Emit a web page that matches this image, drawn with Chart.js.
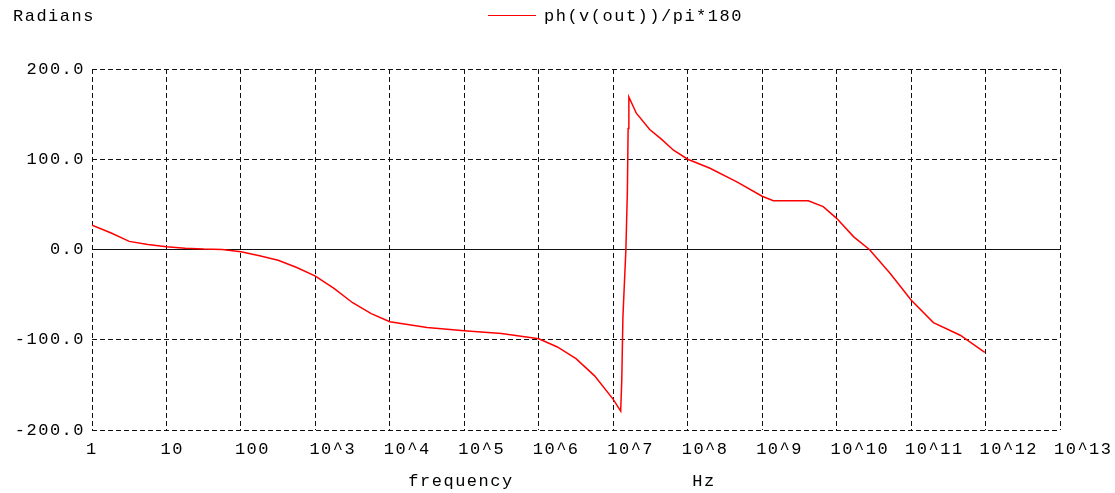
<!DOCTYPE html>
<html>
<head>
<meta charset="utf-8">
<script src="https://cdn.jsdelivr.net/npm/chart.js@4"></script>
<style>
  html, body { margin: 0; padding: 0; background: #fff; }
  #wrap { width: 1115px; height: 493px; }
</style>
</head>
<body>
<div id="wrap"><canvas id="phase"></canvas></div>
<script>
// frequency points as log10(Hz)
const logFreq = [0, 0.25, 0.5, 0.75, 1.0, 1.25, 1.5, 1.75, 2.0, 2.25, 2.5, 2.75,
    3.0, 3.25, 3.5, 3.75, 4.0, 4.5, 5.0, 5.5, 6.0, 6.25, 6.5, 6.75, 7.0, 7.1,
    7.115, 7.13, 7.17, 7.19, 7.2, 7.21, 7.31, 7.49, 7.65, 7.81, 8.0, 8.3, 8.66,
    9.0, 9.15, 9.62, 9.82, 10.0, 10.23, 10.44, 10.72, 11.0, 11.3, 11.66, 11.99];
// ph(v(out))/pi*180
const phaseDeg = [27, 18.5, 9, 5.5, 3, 1.5, 0.5, 0, -2.5, -7, -12, -20,
    -29.5, -43, -59, -71, -80, -86.5, -90, -93, -99, -108, -121, -140, -166, -179,
    -144, -75, 0, 64, 134, 169, 151, 133, 122, 110, 100, 90, 75,
    59, 54, 54, 47.5, 34.5, 14, 0, -26.5, -56, -81, -95, -114];

const xTickValues = [1, 1e1, 1e2, 1e3, 1e4, 1e5, 1e6, 1e7, 1e8, 1e9, 1e10, 1e11, 1e12, 1e13];
const xTickLabels = ["1", "10", "100", "10^3", "10^4", "10^5", "10^6", "10^7",
    "10^8", "10^9", "10^10", "10^11", "10^12", "10^13"];

const seriesLabel = "ph(v(out))/pi*180";
const yTitle = "Radians";
const xTitle = "frequency";
const xUnit = "Hz";

const FAMILY = "'Liberation Mono', 'DejaVu Sans Mono', monospace";
const FONT = "17px " + FAMILY;
const SPACING = "1.5px";

// SPICE-style wide mono text, plus header / axis captions
const probeText = {
    id: "probeText",
    beforeDraw(chart) {
        chart.ctx.letterSpacing = SPACING;
    },
    afterDraw(chart) {
        const ctx = chart.ctx;
        ctx.save();
        ctx.letterSpacing = SPACING;
        ctx.font = FONT;
        ctx.fillStyle = "#000";
        ctx.textBaseline = "middle";
        ctx.textAlign = "left";
        ctx.fillText(yTitle, 13, 16);

        ctx.strokeStyle = "#ff0000";
        ctx.lineWidth = 1;
        ctx.beginPath();
        ctx.moveTo(488, 15.5);
        ctx.lineTo(536, 15.5);
        ctx.stroke();
        ctx.fillText(seriesLabel, 544, 16);

        ctx.textAlign = "center";
        ctx.fillText(xTitle, 461, 481);
        ctx.fillText(xUnit, 704, 481);
        ctx.restore();
    }
};

const cfg = {
    type: "line",
    data: {
        datasets: [{
            label: seriesLabel,
            data: logFreq.map((e, i) => ({ x: Math.pow(10, e), y: phaseDeg[i] })),
            borderColor: "#ff0000",
            borderWidth: 1.5,
            pointRadius: 0,
            tension: 0,
            fill: false,
        }],
    },
    options: {
        responsive: true,
        maintainAspectRatio: false,
        animation: false,
        layout: { padding: { top: 69, right: 55, left: 0, bottom: 0 } },
        plugins: {
            legend: { display: false },
            title: { display: false },
            tooltip: { enabled: false },
        },
        scales: {
            x: {
                type: "logarithmic",
                min: 1,
                max: 1e13,
                afterBuildTicks: (scale) => {
                    scale.ticks = xTickValues.map(v => ({ value: v }));
                },
                afterFit: (scale) => {
                    scale.height = 63;
                    scale.paddingLeft = 0;
                    scale.paddingRight = 0;
                },
                grid: { color: "#111", lineWidth: 1, drawTicks: false },
                border: { display: false, dash: [5, 3] },
                ticks: {
                    autoSkip: false,
                    maxRotation: 0,
                    align: "start",
                    labelOffset: -6,
                    padding: 9,
                    color: "#000",
                    font: { family: FAMILY, size: 17 },
                    callback: (v, i) => xTickLabels[i],
                },
            },
            y: {
                min: -200,
                max: 200,
                afterFit: (scale) => { scale.width = 92; },
                grid: { color: "#111", lineWidth: 1, drawTicks: false },
                border: {
                    display: false,
                    dash: (c) => (c.tick && c.tick.value === 0 ? [] : [5, 3]),
                },
                ticks: {
                    stepSize: 100,
                    padding: 7,
                    color: "#000",
                    font: { family: FAMILY, size: 17 },
                    callback: (v) => v.toFixed(1),
                },
            },
        },
    },
    plugins: [probeText],
};

const phaseCtx = document.getElementById("phase");
window.phaseChart = new Chart(phaseCtx, cfg);
</script>
</body>
</html>
